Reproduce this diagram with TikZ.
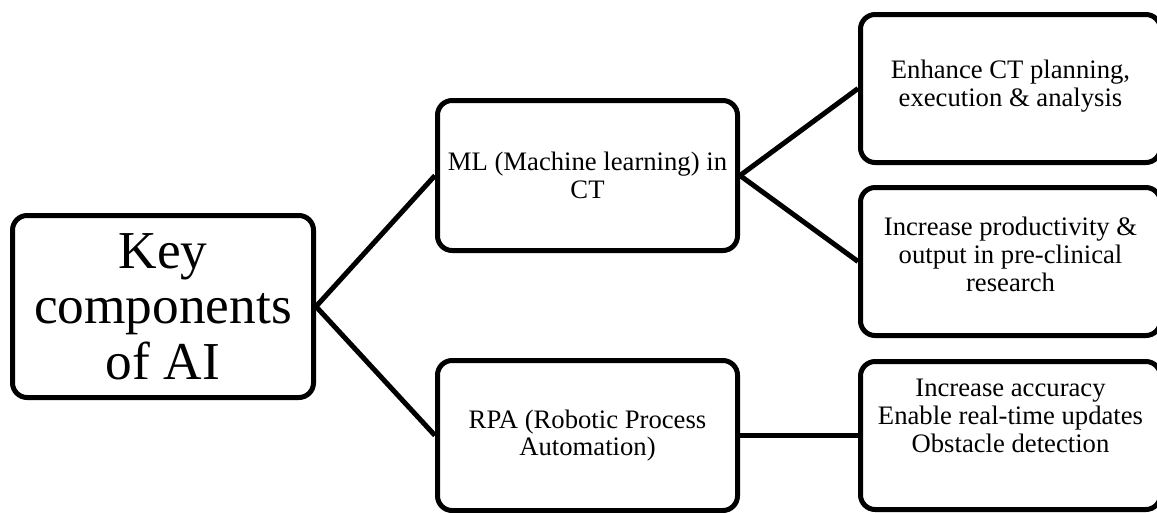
\documentclass[tikz,border=0pt]{standalone}
\usepackage{fontspec}
\setmainfont{Liberation Serif}
\begin{document}
\begin{tikzpicture}[x=0.75pt,y=-0.75pt,
  box/.style={draw=black,line width=3.75pt,rounded corners=11pt,fill=white,
    align=center,inner sep=2pt},
  bigbox/.style={box,minimum width=225.75pt,minimum height=136.5pt,
    font=\fontsize{40}{41.5}\selectfont},
  midbox/.style={box,minimum width=225pt,minimum height=112.5pt,
    font=\fontsize{20}{20.5}\selectfont},
  sidebox/.style={box,minimum width=225pt,minimum height=111pt},
  sidetext/.style={align=center,inner sep=0pt,font=\fontsize{20}{21}\selectfont},
  link/.style={draw=black,line width=3.75pt}]
\useasboundingbox (0,0) rectangle (1157,512);
\clip (0,0) rectangle (1157,512);

% root
\node[bigbox] (key) at (163,306.5) {Key\\components\\of AI};

% second level
\node[midbox] (ml)  at (587.5,175.5) {ML (Machine learning) in\\CT};
\node[midbox] (rpa) at (587.5,435.5) {RPA (Robotic Process\\Automation)};

% third level: frames, then their text set a little above centre
\node[sidebox] (plan) at (1010.5,88.5) {};
\node[sidebox] (prod) at (1010.5,261.5) {};
\node[sidebox] (acc)  at (1010.5,435.5) {};
\node[sidetext] (plantext) at ([yshift=1.5pt]plan.center) {Enhance CT planning,\\execution \& analysis};
\node[sidetext] (prodtext) at ([yshift=5pt]prod.center) {Increase productivity \&\\output in pre-clinical\\research};
\node[sidetext] (acctext)  at ([yshift=15pt]acc.center) {Increase accuracy\\Enable real-time updates\\Obstacle detection};

% connectors
\draw[link] (key.east) -- (ml.west);
\draw[link] (key.east) -- (rpa.west);
\draw[link] (ml.east) -- (plan.west);
\draw[link] (ml.east) -- (prod.west);
\draw[link] (rpa.east) -- (acc.west);
\end{tikzpicture}
\end{document}
